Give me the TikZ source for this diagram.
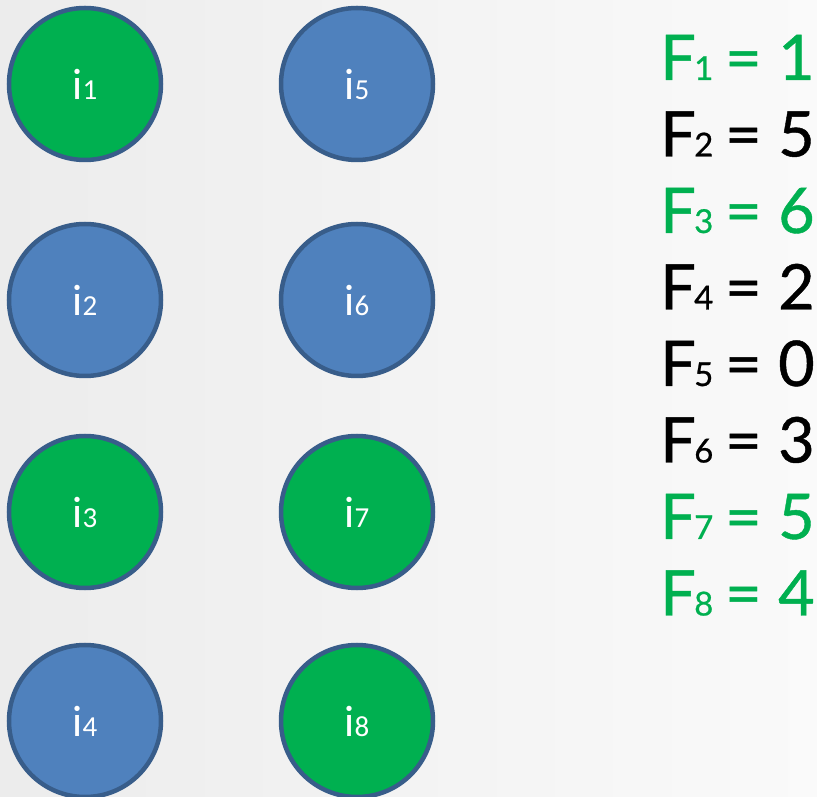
\documentclass[tikz,border=0pt]{standalone}
\usepackage{fontspec}
\setmainfont{Lato}
\newfontfamily\ballfont{Carlito}
\newfontfamily\valfont[FakeBold=0.7]{Lato}
\usepackage{tikz}
\definecolor{ballgreen}{RGB}{0,176,80}
\definecolor{ballblue}{RGB}{79,129,189}
\definecolor{ballrim}{RGB}{56,93,138}
\newcommand{\ballidx}[1]{{\fontsize{29}{29}\selectfont #1}}
% F_k = v, pieces set at fixed offsets
\newcommand{\fline}[2]{\makebox[34pt][l]{F}\makebox[31pt][l]{\fontsize{33}{33}\selectfont #1}\makebox[53pt][l]{=}#2}

\begin{document}
\begin{tikzpicture}[x=1pt,y=1pt,
 ball/.style={circle,draw=ballrim,line width=4.5pt,minimum size=152pt,inner sep=0pt,
   text=white,font=\ballfont\fontsize{44}{44}\selectfont},
 gball/.style={ball,fill=ballgreen},
 bball/.style={ball,fill=ballblue},
 fval/.style={anchor=base west,inner sep=0pt,font=\valfont\fontsize{63}{63}\selectfont}]
 \shade[left color={rgb,255:red,236;green,236;blue,236},right color={rgb,255:red,250;green,250;blue,250}] (0,0) rectangle (817,796);
 \useasboundingbox (0,0) rectangle (817,796);
 % first column
 \node[gball] (i1) at (85,712) {i\ballidx{1}};
 \node[bball] (i2) at (85,496) {i\ballidx{2}};
 \node[gball] (i3) at (85,284) {i\ballidx{3}};
 \node[bball] (i4) at (85,75) {i\ballidx{4}};
 % second column
 \node[bball] (i5) at (357,712) {i\ballidx{5}};
 \node[bball] (i6) at (357,496) {i\ballidx{6}};
 \node[gball] (i7) at (357,284) {i\ballidx{7}};
 \node[gball] (i8) at (357,75) {i\ballidx{8}};
 % values
 \node[fval,text=ballgreen] (F1) at (660,716) {\fline{1}{1}};
 \node[fval] (F2) at (660,639.5) {\fline{2}{5}};
 \node[fval,text=ballgreen] (F3) at (660,563) {\fline{3}{6}};
 \node[fval] (F4) at (660,486.5) {\fline{4}{2}};
 \node[fval] (F5) at (660,410) {\fline{5}{0}};
 \node[fval] (F6) at (660,333.5) {\fline{6}{3}};
 \node[fval,text=ballgreen] (F7) at (660,257) {\fline{7}{5}};
 \node[fval,text=ballgreen] (F8) at (660,180.5) {\fline{8}{4}};
\end{tikzpicture}
\end{document}
